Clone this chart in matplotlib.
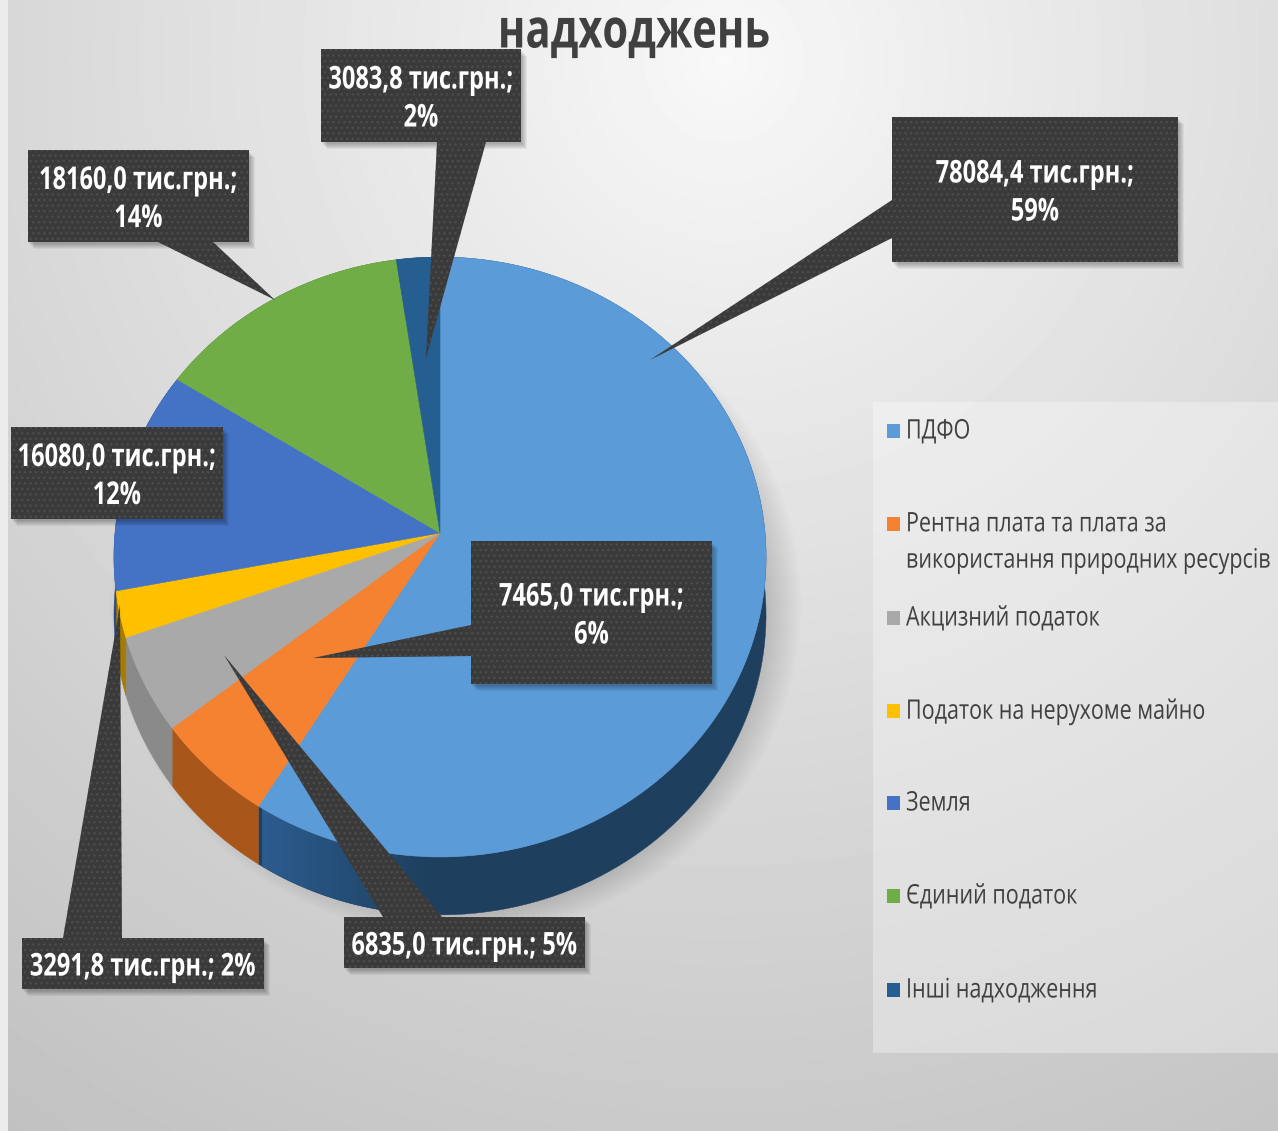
import numpy as np
import matplotlib
matplotlib.use("Agg")
import matplotlib.pyplot as plt
import matplotlib.patheffects as pe
from matplotlib.patches import Polygon, Ellipse, Rectangle
from matplotlib.transforms import Affine2D

plt.rcParams['font.family'] = ['Open Sans', 'Noto Sans', 'DejaVu Sans']
plt.rcParams['hatch.linewidth'] = 1.0

# Data
categories = ["ПДФО", "Рентна плата та плата за\nвикористання природних ресурсів",
              "Акцизний податок", "Податок на нерухоме майно", "Земля",
              "Єдиний податок", "Інші надходження"]
values = [78084.4, 7465.0, 6835.0, 3291.8, 16080.0, 18160.0, 3083.8]
value_labels = ["78084,4 тис.грн.;\n59%", "7465,0 тис.грн.;\n6%", "6835,0 тис.грн.; 5%",
                "3291,8 тис.грн.; 2%", "16080,0 тис.грн.;\n12%", "18160,0 тис.грн.;\n14%",
                "3083,8 тис.грн.;\n2%"]
title = "надходжень"

# Styles
colors = ["#5b9bd8", "#f58231", "#a9a9a9", "#ffc000", "#4472c4", "#70ad47", "#255e91"]
side_colors = ["#1f3f5e", "#a9561b", "#8a8a8a", "#a67c00", "#2c4a80", "#48702e", "#183d5e"]
legend_y = [430, 523, 617, 710, 802, 895, 989]

# callout boxes (x0, y0, x1, y1) and tails (base a, base b, tip), same order as values
boxes = [(892, 117, 1178, 262), (471, 541, 712, 684), (344, 917, 585, 968),
         (22, 938, 264, 989), (11, 427, 223, 519), (28, 150, 249, 242), (321, 49, 521, 142)]
tails = [((892, 200), (892, 238), (650, 360)),
         ((471, 625), (471, 656), (313, 658)),
         ((383, 917), (442, 917), (224, 655)),
         ((63, 938), (122, 938), (120, 605)),
         None,
         ((158, 242), (213, 242), (275, 300)),
         ((437, 142), (486, 142), (426, 358))]

# Pie geometry in pixels, tilted with a small perspective
cx, cy = 440, 533
a, b, k = 325, 298, 0.08
depth = 58

W, H = 1278, 1131
fig = plt.figure(figsize=(W / 100, H / 100), dpi=100)
ax = fig.add_axes([0, 0, 1, 1])


class Tall(pe.AbstractPathEffect):
    # the original font is a condensed one, so stretch glyphs upward from the baseline
    def __init__(self, sy):
        super().__init__()
        self.sy = sy

    def draw_path(self, renderer, gc, tpath, affine, rgbFace=None):
        renderer.draw_path(gc, tpath, Affine2D().scale(1, self.sy) + affine, rgbFace)


def project(xy):
    w = 1 + k * xy[:, 1]
    return np.column_stack([cx + a * xy[:, 0] / w, cy - b * xy[:, 1] / w])


# let pie work out the wedges, then redraw them tilted
wedges, _ = ax.pie(values, startangle=90, counterclock=False, radius=1)
faces = []
rims = []
for w in wedges:
    big = Affine2D().scale(1000)
    path = w.get_path().transformed(w.get_patch_transform() + big)
    poly = path.to_polygons(closed_only=False)[0] / 1000
    # the wedge path runs along the arc, then to the centre
    apex = np.argmax(np.hypot(poly[:, 0], poly[:, 1]) < 0.5)
    faces.append(project(poly))
    rims.append(project(poly[:apex]))
    w.remove()

ax.set_aspect("auto")
ax.axis("off")

# background
yy, xx = np.mgrid[0:H:4, 0:W:4]
dist = np.hypot(xx - 720, yy - 60) / 1300
bg = 0.975 - 0.22 * np.clip(dist, 0, 1) ** 0.9
ax.imshow(bg, extent=(8, W, H, 0), cmap="gray", vmin=0, vmax=1, aspect="auto", zorder=0,
          interpolation="bilinear")
ax.add_patch(Rectangle((0, 0), 8, H, fc="#ececec", ec="none", zorder=0.5))

# legend panel
ax.add_patch(Rectangle((873, 402), 405, 651, fc="white", alpha=0.32, ec="none", zorder=1))

# soft shadow of the pie
for i in range(12):
    ax.add_patch(Ellipse((456, 604), 690 - i * 6, 664 - i * 5,
                         fc="black", alpha=0.01, ec="none", zorder=1.5))

# sides
for i, rim in enumerate(rims):
    ribbon = np.vstack([rim, (rim + [0, depth])[::-1]])
    ax.add_patch(Polygon(ribbon, fc=side_colors[i], ec=side_colors[i], lw=0.3, zorder=2))
    if i == 0:
        # the big slice side gets lighter to the left
        grad = np.linspace(0, 1, 60)[None, :, None]
        c0, c1 = np.array([0.17, 0.36, 0.56]), np.array([0.12, 0.25, 0.37])
        im = ax.imshow(c0 + (c1 - c0) * grad, extent=(262, 430, 1000, 400), aspect="auto",
                       zorder=2.1)
        im.set_clip_path(Polygon(ribbon, transform=ax.transData))

# top faces
for face, c in zip(faces, colors):
    ax.add_patch(Polygon(face, fc=c, ec=c, lw=0.4, zorder=3))

# callouts
for box, tail, label in zip(boxes, tails, value_labels):
    x0, y0, x1, y1 = box
    pts = [(x0, y0), (x1, y0), (x1, y1), (x0, y1)]
    if tail is not None:
        ax.add_patch(Polygon(tail, fc="#3a3a3a", ec="#4c4c4c", hatch="...", lw=0, zorder=5))
    for s in range(6):
        ax.add_patch(Rectangle((x0 + 1 + s, y0 + 2 + s), x1 - x0, y1 - y0, fc="black",
                               alpha=0.05, ec="none", zorder=4))
    ax.add_patch(Polygon(pts, fc="#3a3a3a", ec="#4c4c4c", hatch="...", lw=0, zorder=6))
    ax.text((x0 + x1) / 2, (y0 + y1) / 2 + 6, label, color="white", fontsize=17,
            fontweight="bold", ha="center", va="center", linespacing=1.78, zorder=7,
            path_effects=[Tall(1.33)])

# legend
for y, c, cat in zip(legend_y, colors, categories):
    ax.add_patch(Rectangle((887, y - 6.5), 13, 14, fc=c, ec="none", zorder=3))
    ty = y + 3 + (18 if "\n" in cat else 0)
    ax.text(906, ty, cat, color="#404040", fontsize=15.5, ha="left", va="center",
            linespacing=1.96, zorder=3, path_effects=[Tall(1.25)])

ax.text(634, 37, title, color="#404040", fontsize=30, fontweight="bold", ha="center",
        va="center", zorder=3.5, path_effects=[Tall(1.3)])

ax.set_xlim(0, W)
ax.set_ylim(H, 0)

fig.savefig("out.png", dpi=100)
